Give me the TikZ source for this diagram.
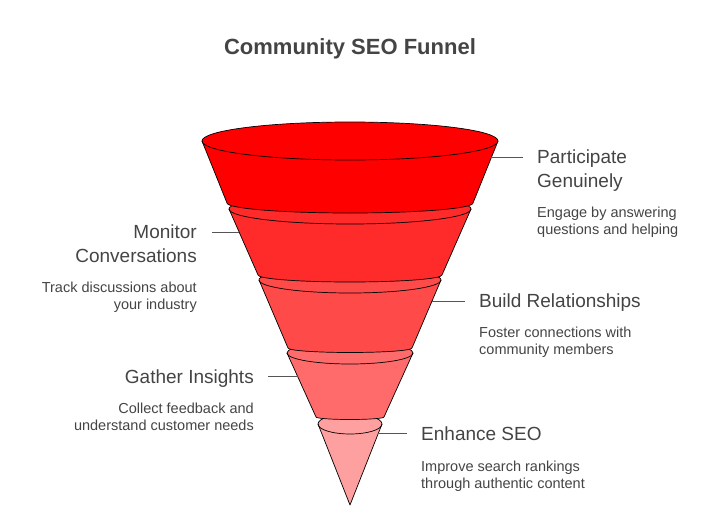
\documentclass[tikz,border=0pt]{standalone}
\usepackage{fontspec}
\setmainfont{Liberation Sans}
\definecolor{segA}{HTML}{FF0000}
\definecolor{segB}{HTML}{FF2A2A}
\definecolor{segC}{HTML}{FF4A4A}
\definecolor{segD}{HTML}{FF6B6B}
\definecolor{segE}{HTML}{FFA0A0}
\definecolor{txtgray}{HTML}{444444}
\definecolor{linegray}{HTML}{555555}
\begin{document}
\begin{tikzpicture}[x=1pt,y=-1pt,
  head/.style={inner sep=0pt,text=txtgray,font=\fontsize{19}{24}\selectfont},
  desc/.style={inner sep=0pt,text=txtgray,font=\fontsize{14.5}{17}\selectfont},
  leader/.style={draw=linegray,line width=1pt},
  seg/.style={draw=black,line width=0.7pt,line join=round}]
\useasboundingbox (0,0) rectangle (720,519);

\node[inner sep=0pt,anchor=north,text=txtgray,font=\bfseries\fontsize{22}{26}\selectfont] (title) at (350,38.5) {Community SEO Funnel};

% funnel, lowest part first
\filldraw[seg,fill=segE] (318,424) -- (350,505) -- (382,424)
  arc[start angle=0,end angle=-180,x radius=32,y radius=10] -- cycle;
\draw[seg] (318,424) arc[start angle=180,end angle=0,x radius=32,y radius=10];
\foreach \yt/\rt/\ryt/\yb/\rb/\ryb/\col in {353/63/11/417/34/2.5/segD,
    280/91/13/348/62/4.5/segC, 209/121/15/275/92/7/segB, 141/148/19/203/123/10/segA}{
  \filldraw[seg,fill=\col] (350-\rt,\yt) -- (350-\rb,\yb)
    arc[start angle=180,end angle=0,x radius=\rb,y radius=\ryb]
    -- (350+\rt,\yt)
    arc[start angle=0,end angle=-180,x radius=\rt,y radius=\ryt] -- cycle;
  \draw[seg] (350-\rt,\yt) arc[start angle=180,end angle=0,x radius=\rt,y radius=\ryt];
}

% labels
\node[head,anchor=north west,align=left] (pg) at (537,149.1) {Participate\\Genuinely};
\node[desc,anchor=north west,align=left] (pgd) at (537,206.3) {Engage by answering\\questions and helping};
\node[head,anchor=north east,align=right] (mc) at (197,224.1) {Monitor\\Conversations};
\node[desc,anchor=north east,align=right] (mcd) at (197,281.3) {Track discussions about\\your industry};
\node[head,anchor=north west] (br) at (479,293.1) {Build Relationships};
\node[desc,anchor=north west,align=left] (brd) at (479,326.9) {Foster connections with\\community members};
\node[head,anchor=north east] (gi) at (254,369.1) {Gather Insights};
\node[desc,anchor=north east,align=right] (gid) at (254,402.9) {Collect feedback and\\understand customer needs};
\node[head,anchor=north west] (es) at (421,426.4) {Enhance SEO};
\node[desc,anchor=north west,align=left] (esd) at (421,460.3) {Improve search rankings\\through authentic content};

% leader lines
\coordinate (pgA) at (490,157);
\coordinate (pgB) at (523,157);
\coordinate (mcA) at (239,232);
\coordinate (mcB) at (212,232);
\coordinate (brA) at (432,301);
\coordinate (brB) at (465,301);
\coordinate (giA) at (298,376);
\coordinate (giB) at (268,376);
\coordinate (esA) at (378,433);
\coordinate (esB) at (407,433);
\draw[leader] (pgA) -- (pgB);
\draw[leader] (mcA) -- (mcB);
\draw[leader] (brA) -- (brB);
\draw[leader] (giA) -- (giB);
\draw[leader] (esA) -- (esB);
\end{tikzpicture}
\end{document}
